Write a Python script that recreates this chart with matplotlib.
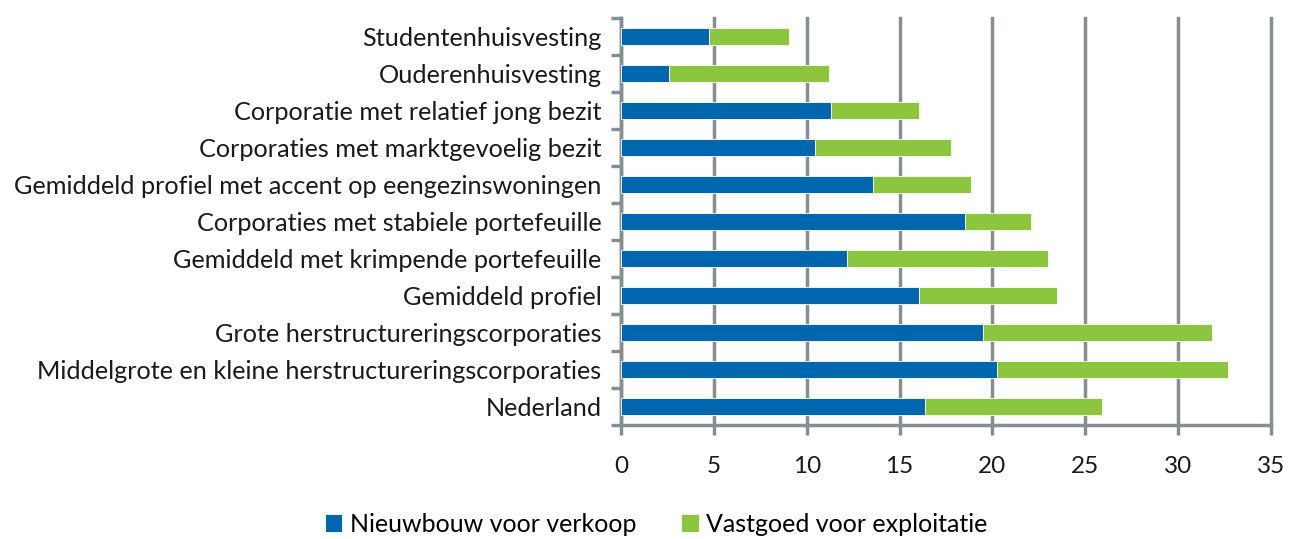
import matplotlib
matplotlib.use("Agg")
import matplotlib.pyplot as plt
import numpy as np

categories = [
    "Studentenhuisvesting",
    "Ouderenhuisvesting",
    "Corporatie met relatief jong bezit",
    "Corporaties met marktgevoelig bezit",
    "Gemiddeld profiel met accent op eengezinswoningen",
    "Corporaties met stabiele portefeuille",
    "Gemiddeld met krimpende portefeuille",
    "Gemiddeld profiel",
    "Grote herstructureringscorporaties",
    "Middelgrote en kleine herstructureringscorporaties",
    "Nederland",
]
nieuwbouw = [4.74, 2.59, 11.32, 10.46, 13.58, 18.54, 12.18, 16.06, 19.48, 20.24, 16.37]
totaal = [9.06, 11.21, 16.06, 17.79, 18.87, 22.10, 22.97, 23.50, 31.83, 32.67, 25.91]
vastgoed = [t - n for t, n in zip(totaal, nieuwbouw)]
series_names = ["Nieuwbouw voor verkoop", "Vastgoed voor exploitatie"]
xticks = [0, 5, 10, 15, 20, 25, 30, 35]

BLUE = "#0066AD"
GREEN = "#8CC63F"
GRID = "#868E92"

plt.rcParams['font.family'] = ['Lato', 'DejaVu Sans']

fig = plt.figure(figsize=(12.89, 5.39), dpi=100)
ax = fig.add_axes([621/1289, 1 - 425/539, 650/1289, (425-18)/539])

y = np.arange(len(categories))
ax.barh(y, nieuwbouw, height=0.44, color=BLUE, edgecolor="white", linewidth=0.6, zorder=3, label=series_names[0])
ax.barh(y, vastgoed, left=nieuwbouw, height=0.44, color=GREEN, edgecolor="white", linewidth=0.6, zorder=3, label=series_names[1])

ax.set_ylim(len(categories) - 0.5, -0.5)
ax.set_xlim(0, 35)
ax.set_xticks(xticks)
ax.set_xticklabels([str(v) for v in xticks], fontsize=17.5, color="#1a1a1a")
ax.set_yticks(y)
ax.set_yticklabels(categories, fontsize=18.2, color="#1a1a1a")
ax.tick_params(axis='y', length=0, pad=14)
ax.set_yticks(np.arange(len(categories) + 1) - 0.5, minor=True)
ax.tick_params(axis='y', which='minor', length=7, width=2.5, color=GRID, direction='out')
ax.tick_params(axis='x', length=7, width=2.5, color=GRID, direction='out', pad=15)

ax.grid(axis='x', color=GRID, linewidth=2.5, zorder=0)
for gl in ax.get_xgridlines():
    gl.set_clip_on(False)
for s in ["top", "right"]:
    ax.spines[s].set_visible(False)
for s in ["left", "bottom"]:
    ax.spines[s].set_color(GRID)
    ax.spines[s].set_linewidth(2.5)

handles, labels = ax.get_legend_handles_labels()
fig.legend(handles, labels, loc="center", bbox_to_anchor=(656/1289, 1 - 524/539), ncol=2,
           frameon=False, fontsize=18, handlelength=0.7, handleheight=0.7,
           handletextpad=0.3, columnspacing=1.8)

fig.savefig("out.png", dpi=100)
